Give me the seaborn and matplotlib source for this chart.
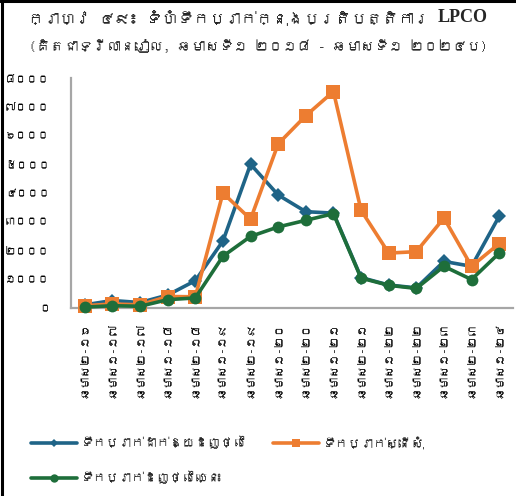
import matplotlib
matplotlib.use("Agg")
import matplotlib.pyplot as plt
from matplotlib import font_manager
from matplotlib.lines import Line2D
from matplotlib.ticker import FixedLocator, FixedFormatter
import numpy as np
import pandas as pd
import seaborn as sns

# ---- data (billions of riel per semester) ----
periods = ["ឆមាស២-១៦", "ឆមាស១-១៧", "ឆមាស២-១៧", "ឆមាស១-១៨", "ឆមាស២-១៨",
           "ឆមាស១-១៩", "ឆមាស២-១៩", "ឆមាស១-២០", "ឆមាស២-២០", "ឆមាស១-២១",
           "ឆមាស២-២១", "ឆមាស១-២២", "ឆមាស២-២២", "ឆមាស១-២៣", "ឆមាស២-២៣",
           "ឆមាស១-២៤"]
offered = [110, 260, 190, 450, 950, 2330, 5000, 3930, 3350, 3300,
           1060, 800, 700, 1620, 1450, 3190]
requested = [80, 140, 110, 400, 390, 4000, 3090, 5710, 6690, 7530,
             3400, 1910, 1960, 3130, 1450, 2240]
allotted = [30, 80, 60, 290, 350, 1800, 2490, 2820, 3050, 3280,
            1040, 790, 680, 1450, 990, 1910]

series_names = ["ទឹកប្រាក់ដាក់ឱ្យដេញថ្លៃ", "ទឹកប្រាក់ស្នើសុំ", "ទឹកប្រាក់ដេញថ្លៃឈ្នះ"]
y_ticks = [0, 1000, 2000, 3000, 4000, 5000, 6000, 7000, 8000]
y_tick_labels = ["០", "១០០០", "២០០០", "៣០០០", "៤០០០", "៥០០០", "៦០០០", "៧០០០", "៨០០០"]

title_kh = "ក្រាហ្វ ៤៩៖ ទំហំទឹកប្រាក់ក្នុងប្រតិបត្តិការ"
title_latin = "LPCO"
subtitle = "(គិតជាទ្រីលានរៀល, ឆមាសទី១ ២០១៨ - ឆមាសទី១ ២០២៤ប)"


def khmer_family():
    """Return the name of an installed font that covers the Khmer block."""
    try:
        from fontTools.ttLib import TTFont
    except Exception:
        return None
    for entry in font_manager.fontManager.ttflist:
        try:
            tt = TTFont(entry.fname, fontNumber=0, lazy=True)
            cmap = tt.getBestCmap()
            if cmap and 0x1780 in cmap and 0x17E0 in cmap:
                return entry.name
        except Exception:
            continue
    return None


sns.set_theme(style="white")
kh = khmer_family()
families = ([kh] if kh else []) + ["DejaVu Sans"]
plt.rcParams["font.family"] = families

colors = {"offered": "#1F6487", "requested": "#ED7D31", "allotted": "#1E6E3A"}

df = pd.DataFrame({
    "period": pd.Categorical(periods, categories=periods, ordered=True),
    "offered": offered,
    "requested": requested,
    "allotted": allotted,
})

fig = plt.figure(figsize=(5.16, 4.96), dpi=100)
renderer = fig.canvas.get_renderer()


def text_box(s, size, **kw):
    t = fig.text(0, 0, s, fontsize=size, **kw)
    bb = t.get_window_extent(renderer)
    t.remove()
    return bb.width, bb.height


def fit_size(s, target_px, base=10.0, max_size=None, **kw):
    size = base * target_px / max(text_box(s, base, **kw)[0], 1.0)
    return min(size, max_size) if max_size else size


ax = fig.add_axes([71 / 516, 1 - 308 / 496, 442 / 516, 230 / 496])

x = np.arange(len(periods))
sns.lineplot(x=x, y=df["offered"], ax=ax, color=colors["offered"], lw=2.6,
             marker="D", markersize=7, markeredgewidth=0, clip_on=False, zorder=3)
sns.lineplot(x=x, y=df["requested"], ax=ax, color=colors["requested"], lw=2.6,
             marker="s", markersize=10.5, markeredgewidth=0, clip_on=False, zorder=4)
sns.lineplot(x=x, y=df["allotted"], ax=ax, color=colors["allotted"], lw=2.6,
             marker="o", markersize=8.5, markeredgewidth=0, clip_on=False, zorder=5)

ax.set_xlim(-0.5, len(periods) - 0.5)
ax.set_ylim(0, 8000)
ax.set_xlabel("")
ax.set_ylabel("")

ax.xaxis.set_major_locator(FixedLocator(x))
ax.xaxis.set_major_formatter(FixedFormatter(periods))
ax.xaxis.set_minor_locator(FixedLocator(np.arange(-0.5, len(periods), 1.0)))
ax.yaxis.set_major_locator(FixedLocator(y_ticks))
ax.yaxis.set_major_formatter(FixedFormatter(y_tick_labels))

spine_gray = "#A6A6A6"
for side in ("top", "right"):
    ax.spines[side].set_visible(False)
for side in ("left", "bottom"):
    ax.spines[side].set_color(spine_gray)
    ax.spines[side].set_linewidth(1.6)

xlab_size = fit_size(periods[0], 76, max_size=10.5)
ylab_size = fit_size(y_tick_labels[-1], 45, max_size=11)

ax.tick_params(axis="x", which="major", length=0, pad=10, labelsize=xlab_size,
               colors="#000000")
ax.tick_params(axis="x", which="minor", length=5, width=1.2, color=spine_gray,
               direction="out")
ax.tick_params(axis="y", which="major", length=5, width=1.2, color=spine_gray,
               direction="out", pad=10, labelsize=ylab_size, labelcolor="#000000")
for lbl in ax.get_xticklabels():
    lbl.set_rotation(90)
    lbl.set_rotation_mode("anchor")
    lbl.set_ha("right")
    lbl.set_va("center")

# title block: Khmer words followed by the Latin acronym in a bold serif
t_size = fit_size(title_kh + " ", 410, fontweight="bold", max_size=15)
w_kh = text_box(title_kh + " ", t_size, fontweight="bold")[0]
w_lat = text_box(title_latin, 13, fontweight="bold", family="Liberation Serif")[0]
x0 = (516 - (w_kh + w_lat)) / 2
fig.text(x0 / 516, 1 - 18 / 496, title_kh + " ", ha="left", va="center",
         fontsize=t_size, fontweight="bold")
fig.text((x0 + w_kh) / 516, 1 - 18 / 496, title_latin, ha="left", va="center",
         fontsize=13, fontweight="bold", family="Liberation Serif")

s_size = fit_size(subtitle, 458, max_size=12)
fig.text(0.5, 1 - 46 / 496, subtitle, ha="center", va="center", fontsize=s_size)

# legend
leg_size = fit_size(series_names[0], 165, max_size=11)
fs_px = leg_size * 100 / 72
row_h = text_box(series_names[0], leg_size)[1]
handles = [
    Line2D([], [], color=colors["offered"], lw=2.6, marker="D", markersize=4.5,
           markeredgewidth=0),
    Line2D([], [], color=colors["allotted"], lw=2.6, marker="o", markersize=6,
           markeredgewidth=0),
    Line2D([], [], color=colors["requested"], lw=2.6, marker="s", markersize=6,
           markeredgewidth=0),
]
labels = [series_names[0], series_names[2], series_names[1]]
fig.legend(handles, labels, ncol=2, loc="center left",
           bbox_to_anchor=(31 / 516, 1 - 460 / 496), frameon=False,
           fontsize=leg_size, handlelength=46 / fs_px, handletextpad=4 / fs_px,
           columnspacing=26 / fs_px, labelspacing=max(35 - row_h, 4) / fs_px,
           borderpad=0.0, borderaxespad=0.0)

# frame edges along the left and top of the figure
fig.add_artist(Line2D([0.003, 0.003], [0, 1], transform=fig.transFigure,
                      color="black", lw=2.2))
fig.add_artist(Line2D([0, 1], [0.997, 0.997], transform=fig.transFigure,
                      color="black", lw=2.2))

fig.savefig("out.png", dpi=100)
